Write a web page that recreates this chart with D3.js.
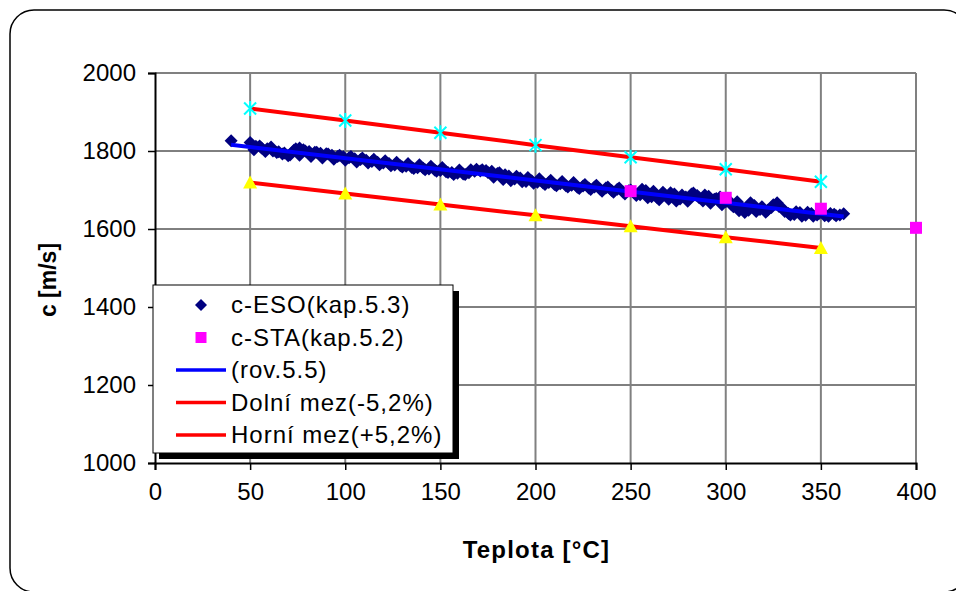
<!DOCTYPE html>
<html>
<head>
<meta charset="utf-8">
<script src="https://cdn.jsdelivr.net/npm/d3@7"></script>
<style>
  body { margin: 0; background: #fff; }
  svg { display: block; font-family: "Liberation Sans", Arial, sans-serif; }
</style>
</head>
<body>
<div id="chart"></div>
<script>
(function() {
    'use strict';

    // c-ESO (kap.5.3) measured points - first pass
    const esoT = [40, 50, 51, 53, 56, 59, 62, 65, 68, 71, 74, 76, 78, 81, 84, 87, 90, 93, 96, 99,
        102, 105, 108, 111, 114, 117, 120, 123, 126, 129, 132, 135, 138, 141, 144, 147, 150, 153, 156, 159,
        162, 165, 168, 171, 174, 177, 180, 183, 186, 189, 192, 195, 198, 201, 204, 207, 210, 213, 216, 219,
        222, 225, 228, 231, 234, 237, 240, 243, 246, 249, 252, 255, 258, 261, 264, 267, 270, 273, 276, 279,
        282, 285, 288, 291, 294, 297, 300, 303, 306, 309, 312, 315, 318, 321, 324, 327, 330, 333, 336, 339,
        342, 345, 348, 351, 354, 357, 360, 362];
    const esoC = [1826, 1822, 1815, 1812, 1808, 1806, 1800, 1798, 1795, 1790, 1806, 1808, 1803, 1799, 1797, 1794, 1793, 1789, 1786, 1785,
        1783, 1780, 1778, 1776, 1773, 1771, 1769, 1768, 1764, 1762, 1761, 1758, 1757, 1756, 1754, 1751, 1750, 1747, 1745, 1743,
        1741, 1744, 1748, 1749, 1750, 1748, 1742, 1727, 1736, 1728, 1731, 1722, 1724, 1720, 1718, 1719, 1714, 1716, 1711, 1712,
        1707, 1710, 1705, 1708, 1702, 1705, 1699, 1702, 1695, 1698, 1693, 1688, 1699, 1683, 1680, 1694, 1676, 1690, 1677, 1682,
        1690, 1686, 1672, 1684, 1676, 1682, 1670, 1662, 1670, 1653, 1648, 1660, 1650, 1643, 1655, 1667, 1652, 1640, 1637, 1642,
        1635, 1640, 1636, 1643, 1633, 1638, 1636, 1639];

    // c-ESO (kap.5.3) - second pass
    const esoT2 = [52, 55, 58, 61, 64, 67, 70, 73, 76, 79, 82, 85, 88, 91, 94, 97, 100, 103, 106, 109,
        112, 115, 118, 121, 124, 127, 130, 133, 136, 139, 142, 145, 148, 151, 154, 157, 160, 163, 166, 169,
        172, 175, 178, 181, 184, 187, 190, 193, 196, 199, 202, 205, 208, 211, 214, 217, 220, 223, 226, 229,
        232, 235, 238, 241, 244, 247, 250, 253, 256, 259, 262, 265, 268, 271, 274, 277, 280, 283, 286, 289,
        292, 295, 298, 301, 304, 307, 310, 313, 316, 319, 322, 325, 328, 331, 334, 337, 340, 343, 346, 349,
        352, 355, 358];
    const esoC2 = [1803, 1813, 1799, 1810, 1796, 1792, 1788, 1802, 1789, 1800, 1786, 1797, 1782, 1792, 1779, 1789, 1776, 1786, 1772, 1782,
        1769, 1779, 1765, 1775, 1762, 1771, 1759, 1768, 1755, 1765, 1752, 1761, 1748, 1758, 1745, 1740, 1751, 1740, 1752, 1753,
        1752, 1745, 1733, 1744, 1739, 1724, 1735, 1721, 1732, 1717, 1729, 1714, 1725, 1711, 1722, 1708, 1719, 1704, 1714, 1701,
        1712, 1697, 1708, 1694, 1705, 1690, 1700, 1686, 1702, 1680, 1697, 1675, 1688, 1693, 1672, 1687, 1671, 1692, 1680, 1687,
        1666, 1678, 1662, 1676, 1657, 1647, 1642, 1667, 1645, 1657, 1648, 1662, 1658, 1645, 1636, 1644, 1633, 1643, 1633, 1640,
        1634, 1640, 1634];

    // c-STA (kap.5.2)
    const staT = [250, 300, 350, 400];
    const staC = [1697, 1680, 1652, 1603];

    // (rov.5.5) regression line
    const rovT = [40, 362];
    const rovC = [1816, 1632];

    // limits +/- 5,2 %
    const limT = [50, 100, 150, 200, 250, 300, 350];
    const upperC = [1909, 1878, 1847, 1815, 1784, 1753, 1721];
    const lowerC = [1719, 1691, 1663, 1635, 1607, 1579, 1551];

    const xTicks = [0, 50, 100, 150, 200, 250, 300, 350, 400];
    const yTicks = [1000, 1200, 1400, 1600, 1800, 2000];

    const legendItems = [
        { name: "c-ESO(kap.5.3)", type: "diamond", color: "#000080" },
        { name: "c-STA(kap.5.2)", type: "square", color: "#FF00FF" },
        { name: "(rov.5.5)", type: "line", color: "#0000FF" },
        { name: "Dolní mez(-5,2%)", type: "line", color: "#FF0000" },
        { name: "Horní mez(+5,2%)", type: "line", color: "#FF0000" }
    ];

    const W = 956, H = 591;
    const plot = { left: 155, top: 73, right: 916, bottom: 463 };

    const svg = d3.select("#chart").append("svg")
        .attr("width", W)
        .attr("height", H);

    // outer rounded frame
    svg.append("rect")
        .attr("x", 10).attr("y", 10)
        .attr("width", 958).attr("height", 582)
        .attr("rx", 24)
        .attr("fill", "#fff")
        .attr("stroke", "#000")
        .attr("stroke-width", 1.5);

    const x = d3.scaleLinear().domain([0, 400]).range([plot.left, plot.right]);
    const y = d3.scaleLinear().domain([1000, 2000]).range([plot.bottom, plot.top]);

    // gridlines
    svg.append("g")
        .selectAll("line")
        .data(yTicks.filter(d => d > 1000 && d < 2000))
        .enter().append("line")
        .attr("x1", plot.left).attr("x2", plot.right)
        .attr("y1", d => y(d)).attr("y2", d => y(d))
        .attr("stroke", "#000").attr("stroke-width", 1);

    svg.append("g")
        .selectAll("line")
        .data(xTicks.filter(d => d > 0))
        .enter().append("line")
        .attr("x1", d => x(d)).attr("x2", d => x(d))
        .attr("y1", plot.top).attr("y2", plot.bottom)
        .attr("stroke", "#808080").attr("stroke-width", 2);

    // top border of plot area
    svg.append("line")
        .attr("x1", plot.left).attr("x2", plot.right)
        .attr("y1", plot.top).attr("y2", plot.top)
        .attr("stroke", "#808080").attr("stroke-width", 2);

    // axes
    const yAxis = svg.append("g")
        .attr("transform", `translate(${plot.left},0)`)
        .call(d3.axisLeft(y).tickValues(yTicks).tickSize(7).tickPadding(12).tickFormat(d3.format("d")));
    const xAxis = svg.append("g")
        .attr("transform", `translate(0,${plot.bottom})`)
        .call(d3.axisBottom(x).tickValues(xTicks).tickSize(7).tickPadding(12).tickFormat(d3.format("d")));

    [yAxis, xAxis].forEach(a => {
        a.select(".domain").attr("stroke", "#000").attr("stroke-width", 2);
        a.selectAll(".tick line").attr("stroke", "#000").attr("stroke-width", 1.5);
        a.selectAll(".tick text")
            .attr("fill", "#000")
            .style("font-size", "24px")
            .style("font-family", "'Liberation Sans', Arial, sans-serif");
    });
    xAxis.selectAll(".tick text").attr("dy", "0.75em");

    // axis titles
    svg.append("text")
        .attr("x", (plot.left + plot.right) / 2 + 1)
        .attr("y", 558)
        .attr("text-anchor", "middle")
        .style("font-size", "24px").style("font-weight", "bold")
        .style("letter-spacing", "1.2px")
        .text("Teplota [°C]");

    svg.append("text")
        .attr("transform", "translate(56,280) rotate(-90)")
        .attr("text-anchor", "middle")
        .style("font-size", "23px").style("font-weight", "bold")
        .text("c [m/s]");

    const eso = esoT.map((t, i) => ({ t: t, c: esoC[i] }))
        .concat(esoT2.map((t, i) => ({ t: t, c: esoC2[i] })));
    const sta = staT.map((t, i) => ({ t: t, c: staC[i] }));
    const rov = rovT.map((t, i) => ({ t: t, c: rovC[i] }));
    const upper = limT.map((t, i) => ({ t: t, c: upperC[i] }));
    const lower = limT.map((t, i) => ({ t: t, c: lowerC[i] }));

    const line = d3.line().x(d => x(d.t)).y(d => y(d.c));

    const diamond = "M0,-6.5L6.5,0L0,6.5L-6.5,0Z";
    const square = "M-6,-6H6V6H-6Z";
    const triangle = "M0,-7L7,6H-7Z";
    const star = "M-6,-6L6,6M-6,6L6,-6M0,-7.5V7.5";

    // c-ESO diamonds
    svg.append("g").selectAll("path")
        .data(eso).enter().append("path")
        .attr("d", diamond)
        .attr("transform", d => `translate(${x(d.t)},${y(d.c)})`)
        .attr("fill", "#000080");

    // regression line
    svg.append("path").datum(rov)
        .attr("d", line)
        .attr("fill", "none").attr("stroke", "#0000FF").attr("stroke-width", 4);

    // c-STA squares
    svg.append("g").selectAll("path")
        .data(sta).enter().append("path")
        .attr("d", square)
        .attr("transform", d => `translate(${x(d.t)},${y(d.c)})`)
        .attr("fill", "#FF00FF");

    // limits
    [upper, lower].forEach(s => {
        svg.append("path").datum(s)
            .attr("d", line)
            .attr("fill", "none").attr("stroke", "#FF0000").attr("stroke-width", 4);
    });

    svg.append("g").selectAll("path")
        .data(upper).enter().append("path")
        .attr("d", star)
        .attr("transform", d => `translate(${x(d.t)},${y(d.c)})`)
        .attr("fill", "none").attr("stroke", "#00FFFF").attr("stroke-width", 2);

    svg.append("g").selectAll("path")
        .data(lower).enter().append("path")
        .attr("d", triangle)
        .attr("transform", d => `translate(${x(d.t)},${y(d.c)})`)
        .attr("fill", "#FFFF00");

    // legend with shadow
    const lg = { x: 153, y: 285, w: 300, h: 168 };
    svg.append("rect")
        .attr("x", lg.x + 6).attr("y", lg.y + 6)
        .attr("width", lg.w).attr("height", lg.h)
        .attr("fill", "#000");
    svg.append("rect")
        .attr("x", lg.x).attr("y", lg.y)
        .attr("width", lg.w).attr("height", lg.h)
        .attr("fill", "#fff").attr("stroke", "#000").attr("stroke-width", 1);

    const items = svg.append("g").selectAll("g")
        .data(legendItems).enter().append("g")
        .attr("transform", (d, i) => `translate(${lg.x}, ${lg.y + 20 + i * 32.5})`);

    items.each(function(d) {
        const g = d3.select(this);
        if (d.type === "line") {
            g.append("line")
                .attr("x1", 23).attr("x2", 73)
                .attr("y1", 0).attr("y2", 0)
                .attr("stroke", d.color).attr("stroke-width", 3.5);
        } else {
            g.append("path")
                .attr("d", d.type === "diamond" ? "M0,-6L6,0L0,6L-6,0Z" : "M-5.5,-5.5H5.5V5.5H-5.5Z")
                .attr("transform", "translate(48,0)")
                .attr("fill", d.color);
        }
        g.append("text")
            .attr("x", 78).attr("y", 0)
            .attr("dy", "0.35em")
            .style("font-size", "24px")
            .style("letter-spacing", "1px")
            .text(d.name);
    });

})();
</script>
</body>
</html>
